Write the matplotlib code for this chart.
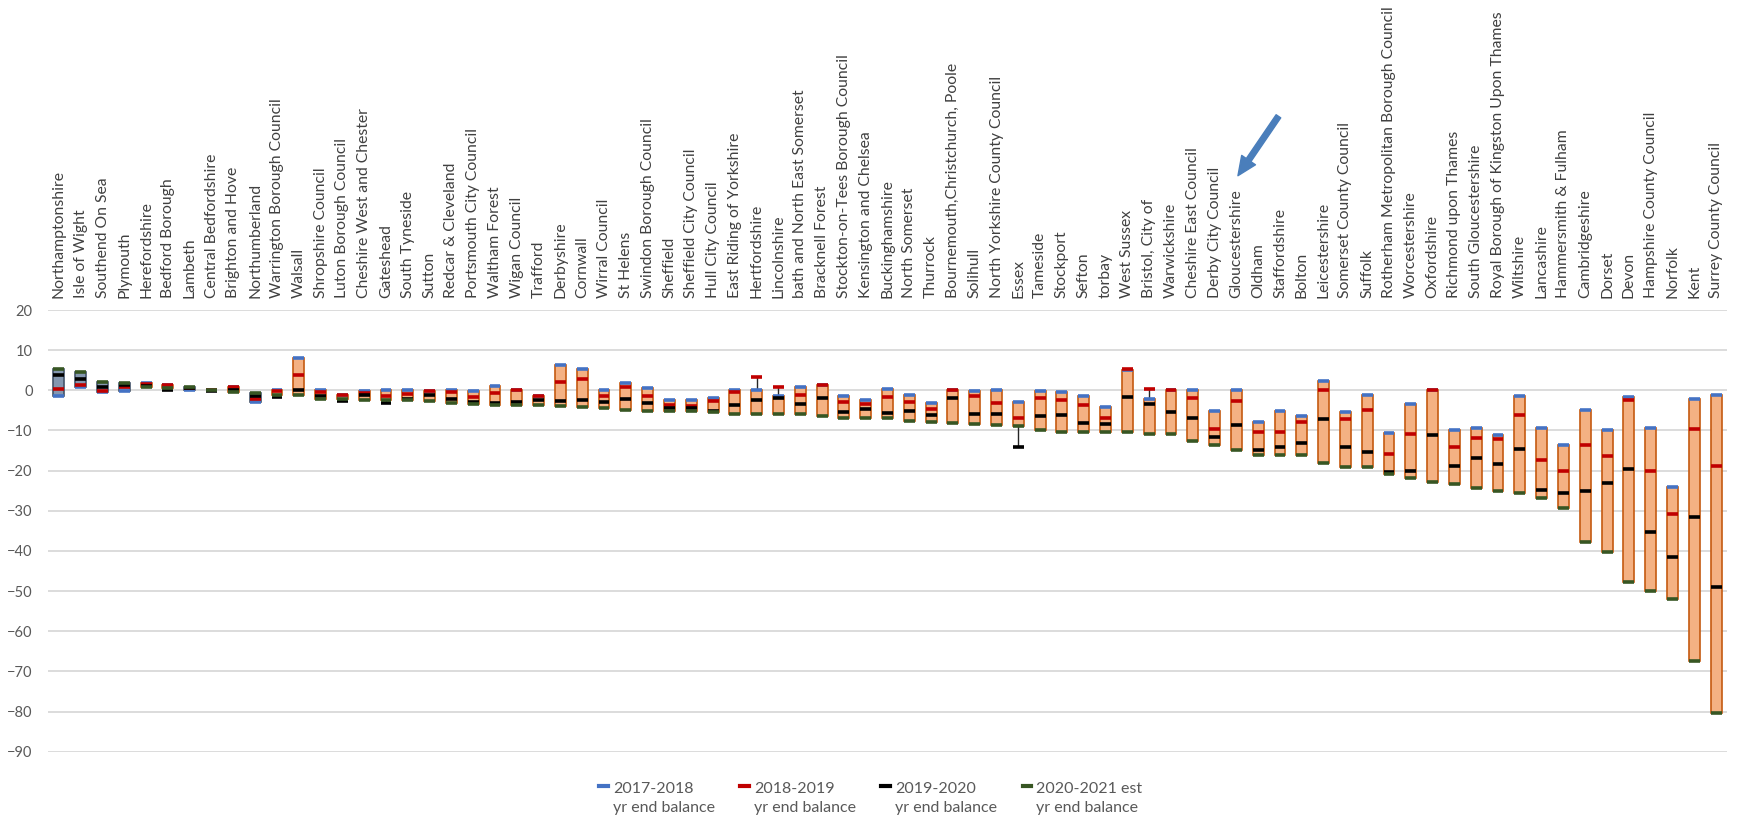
import numpy as np
import matplotlib
matplotlib.use("Agg")
import matplotlib.pyplot as plt
from matplotlib.lines import Line2D
from matplotlib.legend_handler import HandlerLine2D

plt.rcParams['font.family'] = ['Lato', 'DejaVu Sans']

# councils, sorted by estimated 2020-21 balance
councils = [
    "Northamptonshire", "Isle of Wight", "Southend On Sea", "Plymouth", "Herefordshire",
    "Bedford Borough", "Lambeth", "Central Bedfordshire", "Brighton and Hove", "Northumberland",
    "Warrington Borough Council", "Walsall", "Shropshire Council", "Luton Borough Council",
    "Cheshire West and Chester", "Gateshead", "South Tyneside", "Sutton", "Redcar & Cleveland",
    "Portsmouth City Council", "Waltham Forest", "Wigan Council", "Trafford", "Derbyshire",
    "Cornwall", "Wirral Council", "St Helens", "Swindon Borough Council", "Sheffield",
    "Sheffield City Council", "Hull City Council", "East Riding of Yorkshire", "Hertfordshire",
    "Lincolnshire", "bath and North East Somerset", "Bracknell Forest",
    "Stockton-on-Tees Borough Council", "Kensington and Chelsea", "Buckinghamshire",
    "North Somerset", "Thurrock", "Bournemouth,Christchurch, Poole", "Solihull",
    "North Yorkshire County Council", "Essex", "Tameside", "Stockport", "Sefton", "torbay",
    "West Sussex", "Bristol, City of", "Warwickshire", "Cheshire East Council",
    "Derby City Council", "Gloucestershire", "Oldham", "Staffordshire", "Bolton",
    "Leicestershire", "Somerset County Council", "Suffolk",
    "Rotherham Metropolitan Borough Council", "Worcestershire", "Oxfordshire",
    "Richmond upon Thames", "South Gloucestershire", "Royal Borough of Kingston Upon Thames",
    "Wiltshire", "Lancashire", "Hammersmith & Fulham", "Cambridgeshire", "Dorset", "Devon",
    "Hampshire County Council", "Norfolk", "Kent", "Surrey County Council",
]

bal_2017_18 = [
    -1.3, 0.7, -0.3, -0.25, 1.8, 1.3, 0.0, 0.1, 0.9, -2.9,
    0.2, 8.0, 0.0, -1.1, -0.25, 0.0, 0.0, -0.1, 0.2, -0.25,
    1.0, 0.1, -1.3, 6.2, 5.3, 0.0, 1.7, 0.5, -2.5, -2.5,
    -1.9, 0.2, 0.0, -1.5, 0.9, 1.2, -1.3, -2.3, 0.3, -1.2,
    -3.2, 0.0, -0.25, 0.0, -2.8, -0.25, -0.4, -1.3, -4.1, 5.0,
    -2.1, 0.0, 0.0, -5.1, 0.0, -8.0, -5.2, -6.3, 2.25, -5.5,
    -1.2, -10.7, -3.5, 0.0, -9.8, -9.4, -11.1, -1.4, -9.4, -13.5,
    -4.8, -9.8, -1.7, -9.4, -24.0, -2.1, -1.2,
]
bal_2018_19 = [
    0.4, 1.25, -0.1, 0.75, 1.6, 1.2, 0.5, 0.0, 0.8, -2.1,
    -0.25, 3.8, -0.4, -1.2, -0.7, -1.5, -0.8, -0.25, -0.4, -1.7,
    -0.7, 0.0, -1.5, 2.0, 2.8, -1.3, 0.9, -1.3, -3.6, -3.8,
    -2.7, -0.5, 3.3, 0.75, -1.2, 1.3, -3.0, -3.4, -1.6, -3.0,
    -4.6, 0.1, -1.3, -3.2, -6.9, -1.8, -2.3, -3.6, -6.9, 5.2,
    0.3, 0.0, -1.8, -9.6, -2.7, -10.5, -10.5, -7.8, 0.0, -7.1,
    -4.8, -15.8, -11.0, 0.0, -14.2, -11.9, -12.1, -6.1, -17.4, -20.0,
    -13.5, -16.4, -2.5, -20.0, -30.9, -9.6, -18.9,
]
bal_2019_20 = [
    3.9, 2.9, 0.8, 1.2, 1.0, 0.2, 0.6, -0.1, 0.2, -1.4,
    -1.7, 0.0, -1.5, -2.7, -1.25, -3.1, -2.1, -1.2, -2.2, -2.8,
    -3.2, -2.9, -2.5, -2.6, -2.3, -3.0, -2.2, -3.2, -4.4, -4.4,
    -5.2, -3.7, -2.3, -1.9, -3.5, -1.8, -5.5, -4.6, -5.7, -5.1,
    -6.1, -1.8, -6.0, -6.0, -14.2, -6.4, -6.1, -8.1, -8.5, -1.6,
    -3.4, -5.3, -6.9, -11.6, -8.6, -14.9, -14.2, -13.2, -7.1, -14.0,
    -15.4, -20.3, -20.0, -11.2, -18.9, -16.9, -18.3, -14.6, -24.8, -25.6,
    -25.1, -23.1, -19.6, -35.2, -41.4, -31.6, -48.9,
]
bal_2020_21 = [
    5.2, 4.5, 2.0, 1.8, 0.8, 0.6, 0.8, 0.0, -0.4, -0.7,
    -1.1, -1.1, -2.1, -2.1, -2.3, -2.4, -2.4, -2.6, -3.1, -3.5,
    -3.6, -3.6, -3.7, -3.8, -4.1, -4.4, -4.8, -5.1, -5.2, -5.2,
    -5.4, -5.8, -5.8, -5.9, -5.9, -6.4, -6.8, -6.8, -6.8, -7.6,
    -7.8, -8.1, -8.5, -8.7, -8.9, -9.9, -10.5, -10.5, -10.5, -10.5,
    -11.0, -11.0, -12.5, -13.6, -14.8, -16.0, -16.0, -16.2, -18.0, -19.0,
    -19.2, -20.8, -21.8, -22.9, -23.4, -24.4, -25.1, -25.6, -26.9, -29.2,
    -37.7, -40.2, -47.7, -50.0, -51.9, -67.3, -80.3,
]

series_labels = ["2017-2018\nyr end balance", "2018-2019\nyr end balance",
                 "2019-2020\nyr end balance", "2020-2021 est\nyr end balance"]
series_colors = ["#4472C4", "#C00000", "#000000", "#375623"]

x = np.arange(len(councils))
o = np.array(bal_2017_18)
h = np.array(bal_2018_19)
l = np.array(bal_2019_20)
c = np.array(bal_2020_21)

fig = plt.figure(figsize=(17.38, 8.18), dpi=100)
ax = fig.add_axes([48 / 1738, 1 - 751.7 / 818, 1679 / 1738, 441.7 / 818])

# high-low lines (2018-19 to 2019-20)
ax.vlines(x, np.minimum(h, l), np.maximum(h, l), color="#262626", lw=1.0, zorder=2)

# up/down bars from 2017-18 to 2020-21
down = c <= o
bw = 0.5
ax.bar(x[down], (o - c)[down], bottom=c[down], width=bw, color="#F4B183",
       edgecolor="#C55A11", linewidth=1.2, zorder=3)
ax.bar(x[~down], (c - o)[~down], bottom=o[~down], width=bw, color="#8497B0",
       edgecolor="#44546A", linewidth=1.2, zorder=3)

# year-end markers
for vals, col in zip([o, h, l, c], series_colors):
    ax.hlines(vals, x - bw / 2, x + bw / 2, color=col, lw=2.6, zorder=4)

ax.set_xlim(-0.5, len(councils) - 0.5)
ax.set_ylim(-90, 20)
ax.set_yticks(np.arange(-90, 21, 10))
ax.yaxis.grid(True, color="#D9D9D9", lw=1.3)
ax.set_axisbelow(True)
for s in ax.spines.values():
    s.set_visible(False)

ax.set_xticks(x)
ax.set_xticklabels(councils, rotation=90, fontsize=11.3, color="#404040")
ax.tick_params(axis="x", top=True, labeltop=True, bottom=False, labelbottom=False,
               length=0, pad=9)
ax.tick_params(axis="y", length=0, pad=11, labelsize=10.5, labelcolor="#595959")


class FirstLineHandler(HandlerLine2D):
    # put the legend dash next to the first line of the label
    def create_artists(self, legend, orig_handle, xdescent, ydescent, width, height,
                       fontsize, trans):
        arts = super().create_artists(legend, orig_handle, xdescent, ydescent, width,
                                      height, fontsize, trans)
        for a in arts:
            a.set_ydata(np.asarray(a.get_ydata()) + 0.8 * fontsize)
        return arts


handles = [Line2D([0, 1], [0, 0], color=col, lw=3) for col in series_colors]
leg = fig.legend(handles, series_labels, loc="lower center", bbox_to_anchor=(0.501, -0.014),
                 ncol=4, frameon=False, fontsize=11.5, handlelength=0.55,
                 handletextpad=0.3, columnspacing=1.6,
                 handler_map={Line2D: FirstLineHandler()})
for t in leg.get_texts():
    t.set_color("#595959")
    t.set_multialignment("left")
    t.set_linespacing(1.45)

# pointer to Gloucestershire
gi = councils.index("Gloucestershire")
ax.annotate("", xy=(gi, 640), xycoords=("data", "figure pixels"),
            xytext=(gi + 2.0, 704), textcoords=("data", "figure pixels"),
            arrowprops=dict(arrowstyle="simple,head_length=0.85,head_width=0.75,tail_width=0.25",
                            color="#4A7EBB", mutation_scale=16),
            annotation_clip=False)

fig.savefig("out.png", dpi=100)
